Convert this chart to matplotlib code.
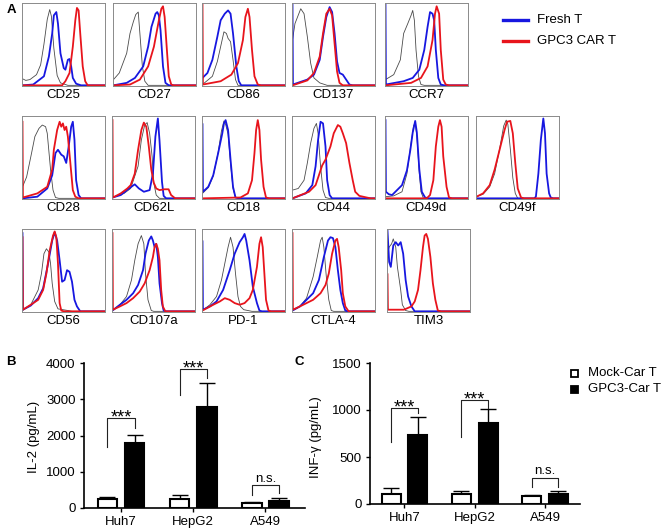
import matplotlib.pyplot as plt
from matplotlib.lines import Line2D
from matplotlib.patches import Rectangle

plt.rcParams['font.family'] = ['Liberation Sans', 'DejaVu Sans']

W, H = 666, 530

# ---- panel A: flow histograms, (x, y) read off each box ----
# x = fraction of the log axis, y = fraction of the mode (box height)
cd25 = {
    'gray': [(0, 0.08), (0.04, 0.06), (0.09, 0.07), (0.17, 0.13), (0.22, 0.25), (0.26, 0.5), (0.30, 0.8), (0.33, 0.92),
             (0.35, 0.84), (0.38, 0.45), (0.42, 0.12), (0.46, 0.03), (0.55, 0)],
    'blue': [(0, 0), (0.13, 0.01), (0.26, 0.11), (0.32, 0.35), (0.36, 0.63), (0.38, 0.85), (0.41, 0.89), (0.43, 0.75),
             (0.46, 0.39), (0.50, 0.21), (0.52, 0.19), (0.55, 0.31), (0.57, 0.32), (0.59, 0.23), (0.61, 0.09),
             (0.65, 0.02), (0.71, 0)],
    'red': [(0, 0), (0.48, 0), (0.52, 0.05), (0.57, 0.15), (0.61, 0.47), (0.64, 0.79), (0.66, 0.94), (0.68, 0.91),
            (0.70, 0.63), (0.73, 0.23), (0.76, 0.05), (0.79, 0)],
}
cd27 = {
    'gray': [(0, 0.07), (0.07, 0.15), (0.16, 0.39), (0.20, 0.63), (0.24, 0.77), (0.27, 0.86), (0.30, 0.89),
             (0.32, 0.63), (0.35, 0.23), (0.38, 0.05), (0.42, 0)],
    'blue': [(0, 0), (0.16, 0.03), (0.26, 0.09), (0.36, 0.23), (0.42, 0.47), (0.46, 0.71), (0.51, 0.87), (0.53, 0.89),
             (0.55, 0.85), (0.57, 0.67), (0.60, 0.23), (0.63, 0.03), (0.67, 0)],
    'red': [(0, 0), (0.20, 0.01), (0.32, 0.07), (0.42, 0.23), (0.49, 0.47), (0.55, 0.79), (0.58, 0.93), (0.60, 0.96),
            (0.62, 0.83), (0.65, 0.39), (0.67, 0.11), (0.70, 0.01), (0.73, 0)],
}
cd86 = {
    'gray': [(0, 0.01), (0.12, 0.11), (0.18, 0.29), (0.22, 0.47), (0.26, 0.65), (0.29, 0.63), (0.31, 0.57),
             (0.34, 0.53), (0.37, 0.31), (0.40, 0.07), (0.43, 0)],
    'blue': [(0, 0.09), (0.06, 0.15), (0.12, 0.31), (0.18, 0.59), (0.22, 0.79), (0.27, 0.87), (0.31, 0.91),
             (0.34, 0.87), (0.37, 0.63), (0.41, 0.23), (0.44, 0.05), (0.47, 0)],
    'red': [(0, 1.0), (0.005, 0.01), (0.22, 0.05), (0.35, 0.13), (0.43, 0.27), (0.49, 0.55), (0.52, 0.83),
            (0.55, 0.93), (0.57, 0.83), (0.60, 0.43), (0.63, 0.11), (0.67, 0.01), (0.71, 0)],
}
cd137 = {
    'gray': [(0, 0.55), (0.03, 0.75), (0.10, 0.93), (0.14, 0.87), (0.18, 0.59), (0.22, 0.27), (0.26, 0.09),
             (0.33, 0.03), (0.42, 0)],
    'blue': [(0, 1.0), (0.005, 0.01), (0.18, 0.07), (0.26, 0.13), (0.33, 0.31), (0.37, 0.59), (0.41, 0.83),
             (0.45, 0.95), (0.48, 0.89), (0.51, 0.63), (0.54, 0.29), (0.57, 0.15), (0.61, 0.13), (0.65, 0.07),
             (0.69, 0.01), (0.73, 0)],
    'red': [(0, 0), (0.18, 0.06), (0.26, 0.15), (0.33, 0.35), (0.37, 0.63), (0.41, 0.87), (0.45, 0.93), (0.48, 0.85),
            (0.51, 0.51), (0.54, 0.17), (0.57, 0.03), (0.61, 0)],
}
ccr7 = {
    'gray': [(0, 0.07), (0.10, 0.13), (0.18, 0.31), (0.22, 0.63), (0.27, 0.75), (0.31, 0.85), (0.33, 0.91),
             (0.35, 0.79), (0.37, 0.43), (0.40, 0.11), (0.43, 0.01), (0.47, 0)],
    'blue': [(0, 1.0), (0.005, 0.01), (0.22, 0.05), (0.33, 0.09), (0.41, 0.19), (0.47, 0.43), (0.51, 0.71),
             (0.54, 0.89), (0.57, 0.87), (0.59, 0.79), (0.61, 0.43), (0.64, 0.09), (0.67, 0.01), (0.71, 0)],
    'red': [(0, 0), (0.31, 0.03), (0.43, 0.09), (0.51, 0.23), (0.57, 0.55), (0.60, 0.87), (0.62, 0.96), (0.65, 0.87),
            (0.67, 0.43), (0.70, 0.07), (0.73, 0.01), (0.77, 0)],
}
cd28 = {
    'gray': [(0, 0.14), (0.05, 0.26), (0.11, 0.55), (0.15, 0.75), (0.20, 0.85), (0.24, 0.89), (0.28, 0.87),
             (0.30, 0.79), (0.34, 0.35), (0.37, 0.10), (0.40, 0.01), (0.44, 0)],
    'blue': [(0, 0), (0.18, 0.02), (0.30, 0.12), (0.36, 0.28), (0.40, 0.55), (0.43, 0.59), (0.47, 0.53), (0.50, 0.51),
             (0.53, 0.43), (0.56, 0.63), (0.59, 0.87), (0.61, 0.93), (0.63, 0.71), (0.65, 0.22), (0.68, 0.04),
             (0.71, 0)],
    'red': [(0, 0.93), (0.005, 0.01), (0.18, 0.06), (0.30, 0.14), (0.36, 0.35), (0.38, 0.59), (0.42, 0.83),
            (0.45, 0.93), (0.47, 0.87), (0.49, 0.91), (0.51, 0.83), (0.53, 0.87), (0.55, 0.75), (0.58, 0.43),
            (0.61, 0.10), (0.64, 0.02), (0.68, 0)],
}
cd62l = {
    'gray': [(0, 0.01), (0.14, 0.06), (0.22, 0.12), (0.31, 0.39), (0.35, 0.71), (0.39, 0.89), (0.42, 0.92),
             (0.45, 0.79), (0.48, 0.51), (0.50, 0.19), (0.53, 0.04), (0.57, 0)],
    'blue': [(0, 0.01), (0.10, 0.04), (0.20, 0.12), (0.27, 0.17), (0.32, 0.12), (0.38, 0.08), (0.45, 0.10),
             (0.49, 0.30), (0.52, 0.75), (0.55, 0.97), (0.57, 0.70), (0.60, 0.20), (0.62, 0.03), (0.65, 0)],
    'red': [(0, 0.95), (0.005, 0.01), (0.10, 0.06), (0.18, 0.12), (0.22, 0.16), (0.27, 0.30), (0.31, 0.59),
            (0.35, 0.83), (0.38, 0.92), (0.41, 0.87), (0.44, 0.63), (0.47, 0.35), (0.50, 0.19), (0.53, 0.12),
            (0.57, 0.10), (0.63, 0.11), (0.68, 0.11), (0.71, 0.04), (0.76, 0)],
}
cd18 = {
    'gray': [(0, 0.06), (0.07, 0.13), (0.13, 0.27), (0.19, 0.56), (0.23, 0.82), (0.26, 0.94), (0.28, 0.90),
             (0.31, 0.78), (0.34, 0.42), (0.37, 0.12), (0.40, 0.01), (0.44, 0)],
    'blue': [(0, 0.9), (0.005, 0.08), (0.07, 0.14), (0.13, 0.28), (0.19, 0.55), (0.24, 0.79), (0.26, 0.91),
             (0.28, 0.95), (0.31, 0.83), (0.34, 0.47), (0.37, 0.14), (0.40, 0.01), (0.44, 0)],
    'red': [(0, 0), (0.46, 0.01), (0.55, 0.06), (0.60, 0.22), (0.63, 0.55), (0.65, 0.83), (0.67, 0.95), (0.69, 0.83),
            (0.71, 0.47), (0.74, 0.14), (0.77, 0.01), (0.81, 0)],
}
cd44 = {
    'gray': [(0, 0.10), (0.07, 0.12), (0.14, 0.22), (0.18, 0.43), (0.22, 0.67), (0.26, 0.85), (0.29, 0.91),
             (0.31, 0.79), (0.34, 0.39), (0.37, 0.10), (0.40, 0.01), (0.44, 0)],
    'blue': [(0, 0), (0.16, 0.06), (0.24, 0.16), (0.28, 0.39), (0.31, 0.71), (0.34, 0.93), (0.37, 0.91), (0.40, 0.63),
             (0.42, 0.22), (0.45, 0.04), (0.48, 0)],
    'red': [(0, 0), (0.20, 0.08), (0.28, 0.16), (0.32, 0.28), (0.36, 0.40), (0.40, 0.47), (0.46, 0.63), (0.50, 0.79),
            (0.55, 0.89), (0.58, 0.87), (0.61, 0.79), (0.65, 0.67), (0.69, 0.43), (0.73, 0.22), (0.76, 0.08),
            (0.81, 0.03), (0.90, 0.01), (0.95, 0)],
}
cd49d = {
    'gray': [(0, 0.02), (0.10, 0.03), (0.20, 0.08), (0.26, 0.30), (0.30, 0.60), (0.34, 0.88), (0.36, 0.92),
             (0.38, 0.75), (0.41, 0.30), (0.43, 0.08), (0.46, 0)],
    'blue': [(0, 0.95), (0.005, 0.08), (0.04, 0.05), (0.08, 0.04), (0.14, 0.10), (0.20, 0.16), (0.26, 0.34),
             (0.30, 0.58), (0.33, 0.80), (0.36, 0.94), (0.38, 0.80), (0.41, 0.35), (0.44, 0.08), (0.48, 0.01),
             (0.52, 0)],
    'red': [(0, 0), (0.50, 0), (0.54, 0.04), (0.58, 0.22), (0.61, 0.63), (0.64, 0.87), (0.66, 0.95), (0.68, 0.87),
            (0.70, 0.51), (0.74, 0.14), (0.77, 0.01), (0.81, 0)],
}
cd49f = {
    'gray': [(0, 0.02), (0.08, 0.05), (0.16, 0.14), (0.22, 0.30), (0.28, 0.60), (0.33, 0.88), (0.36, 0.95),
             (0.38, 0.90), (0.41, 0.60), (0.44, 0.25), (0.47, 0.06), (0.50, 0)],
    'blue': [(0, 0), (0.70, 0), (0.72, 0.02), (0.75, 0.30), (0.78, 0.71), (0.81, 0.97), (0.83, 0.79), (0.85, 0.30),
             (0.88, 0.06), (0.90, 0.01), (0.93, 0)],
    'red': [(0, 0.02), (0.08, 0.06), (0.16, 0.16), (0.22, 0.35), (0.29, 0.63), (0.34, 0.83), (0.37, 0.93),
            (0.41, 0.94), (0.44, 0.79), (0.47, 0.43), (0.50, 0.12), (0.54, 0.01), (0.58, 0)],
}
cd56 = {
    'gray': [(0, 0.01), (0.10, 0.08), (0.19, 0.26), (0.23, 0.46), (0.26, 0.70), (0.29, 0.76), (0.32, 0.72),
             (0.34, 0.58), (0.36, 0.34), (0.39, 0.12), (0.43, 0.03), (0.55, 0.01), (0.60, 0)],
    'blue': [(0, 0.95), (0.005, 0.02), (0.10, 0.07), (0.19, 0.16), (0.25, 0.28), (0.31, 0.58), (0.36, 0.86),
             (0.39, 0.96), (0.42, 0.86), (0.45, 0.62), (0.48, 0.36), (0.51, 0.38), (0.54, 0.50), (0.57, 0.48),
             (0.60, 0.36), (0.63, 0.14), (0.66, 0.06), (0.70, 0)],
    'red': [(0, 0.9), (0.005, 0.02), (0.10, 0.08), (0.19, 0.14), (0.25, 0.26), (0.29, 0.46), (0.33, 0.74),
            (0.37, 0.92), (0.39, 0.97), (0.41, 0.90), (0.43, 0.58), (0.45, 0.10), (0.47, 0.01), (0.50, 0)],
}
cd107a = {
    'gray': [(0, 0.01), (0.09, 0.08), (0.17, 0.18), (0.23, 0.38), (0.27, 0.62), (0.31, 0.82), (0.35, 0.92),
             (0.38, 0.82), (0.40, 0.46), (0.43, 0.14), (0.47, 0.01), (0.50, 0)],
    'blue': [(0, 0.01), (0.09, 0.08), (0.17, 0.14), (0.25, 0.22), (0.31, 0.32), (0.37, 0.50), (0.40, 0.70),
             (0.44, 0.86), (0.47, 0.91), (0.49, 0.86), (0.51, 0.78), (0.53, 0.82), (0.55, 0.66), (0.57, 0.34),
             (0.60, 0.10), (0.62, 0.01), (0.65, 0)],
    'red': [(0, 0.95), (0.005, 0.02), (0.09, 0.06), (0.17, 0.10), (0.25, 0.16), (0.33, 0.24), (0.39, 0.34),
            (0.45, 0.50), (0.49, 0.66), (0.51, 0.78), (0.53, 0.82), (0.55, 0.76), (0.57, 0.62), (0.59, 0.26),
            (0.61, 0.06), (0.64, 0)],
}
pd1 = {
    'gray': [(0, 0.01), (0.09, 0.08), (0.17, 0.18), (0.23, 0.38), (0.27, 0.58), (0.31, 0.78), (0.34, 0.90),
             (0.37, 0.78), (0.40, 0.46), (0.43, 0.18), (0.46, 0.06), (0.50, 0.02), (0.60, 0)],
    'blue': [(0, 0.85), (0.005, 0.02), (0.09, 0.06), (0.17, 0.12), (0.25, 0.26), (0.33, 0.50), (0.39, 0.70),
             (0.45, 0.84), (0.49, 0.90), (0.51, 0.94), (0.53, 0.86), (0.57, 0.62), (0.61, 0.30), (0.66, 0.10),
             (0.69, 0.01), (0.72, 0)],
    'red': [(0, 0.01), (0.13, 0.08), (0.21, 0.12), (0.27, 0.16), (0.33, 0.14), (0.39, 0.10), (0.45, 0.08),
            (0.51, 0.10), (0.57, 0.16), (0.61, 0.26), (0.66, 0.54), (0.69, 0.82), (0.71, 0.90), (0.73, 0.78),
            (0.75, 0.46), (0.77, 0.14), (0.80, 0.01), (0.83, 0)],
}
ctla4 = {
    'gray': [(0, 0.01), (0.09, 0.06), (0.17, 0.16), (0.25, 0.42), (0.30, 0.66), (0.34, 0.86), (0.36, 0.90),
             (0.38, 0.78), (0.41, 0.42), (0.44, 0.14), (0.47, 0.01), (0.50, 0)],
    'blue': [(0, 0.01), (0.09, 0.06), (0.17, 0.14), (0.25, 0.22), (0.32, 0.38), (0.38, 0.66), (0.43, 0.86),
             (0.46, 0.90), (0.49, 0.89), (0.52, 0.78), (0.55, 0.50), (0.58, 0.26), (0.61, 0.10), (0.64, 0.01),
             (0.67, 0)],
    'red': [(0, 0.95), (0.005, 0.02), (0.09, 0.06), (0.17, 0.10), (0.25, 0.14), (0.34, 0.22), (0.40, 0.32),
            (0.44, 0.46), (0.48, 0.70), (0.52, 0.86), (0.54, 0.88), (0.56, 0.78), (0.59, 0.50), (0.61, 0.22),
            (0.64, 0.06), (0.68, 0)],
}
tim3 = {
    'gray': [(0, 0.70), (0.02, 0.78), (0.05, 0.82), (0.07, 0.88), (0.10, 0.78), (0.12, 0.54), (0.16, 0.26),
             (0.18, 0.08), (0.22, 0.01), (0.26, 0)],
    'blue': [(0, 0.98), (0.02, 0.60), (0.04, 0.54), (0.07, 0.80), (0.10, 0.84), (0.13, 0.80), (0.16, 0.84),
             (0.19, 0.70), (0.22, 0.38), (0.25, 0.18), (0.29, 0.06), (0.33, 0)],
    'red': [(0, 0.45), (0.005, 0.02), (0.20, 0.02), (0.29, 0.06), (0.33, 0.12), (0.37, 0.26), (0.40, 0.50),
            (0.43, 0.78), (0.45, 0.92), (0.47, 0.94), (0.49, 0.88), (0.52, 0.66), (0.55, 0.34), (0.58, 0.14),
            (0.61, 0.01), (0.65, 0)],
}

# ---- panels B / C: cytokine release ----
cells = ['Huh7', 'HepG2', 'A549']
il2_mock = [250, 250, 130]
il2_mock_err = [50, 110, 45]
il2_car = [1790, 2780, 190]
il2_car_err = [220, 680, 85]
ifn_mock = [110, 105, 80]
ifn_mock_err = [60, 35, 18]
ifn_car = [730, 860, 105]
ifn_car_err = [200, 150, 28]
sig_labels = ['***', '***', 'n.s.']
# significance brackets: [top, left foot, right foot]
il2_brackets = [(2480, 1680, 2200), (3830, 3110, 3580), (630, 360, 410)]
ifn_brackets = [(1021, 660, 968), (1106, 713, 1021), (277, 181, 181)]

BLUE = '#1717e0'
RED = '#e8141c'
GRAY = '#4a4a4a'

fig = plt.figure(figsize=(W / 100, H / 100), dpi=100)


def px_axes(left, top, width, height):
    return fig.add_axes([left / W, 1 - (top + height) / H, width / W, height / H])


hist_rows = [
    (3, [(22, 'CD25', cd25), (113, 'CD27', cd27), (202, 'CD86', cd86), (292, 'CD137', cd137), (385, 'CCR7', ccr7)]),
    (116, [(22, 'CD28', cd28), (112, 'CD62L', cd62l), (202, 'CD18', cd18), (292, 'CD44', cd44),
           (385, 'CD49d', cd49d), (476, 'CD49f', cd49f)]),
    (229, [(22, 'CD56', cd56), (112, 'CD107a', cd107a), (202, 'PD-1', pd1), (292, 'CTLA-4', ctla4),
           (387, 'TIM3', tim3)]),
]

for top, boxes in hist_rows:
    for left, name, curves in boxes:
        ax = px_axes(left, top, 83, 83)
        for key, color, lw in [('gray', GRAY, 0.6), ('blue', BLUE, 1.3), ('red', RED, 1.3)]:
            pts = curves[key] + [(1.0, 0)]
            ax.plot([p[0] for p in pts], [p[1] for p in pts], color=color, lw=lw)
        ax.set_xlim(-0.006, 1.0)
        ax.set_ylim(-0.008, 1.0)
        ax.set_xticks([])
        ax.set_yticks([])
        for s in ax.spines.values():
            s.set_color('#8a8a8a')
            s.set_linewidth(0.7)
        ax.set_zorder(1)
        fig.text((left + 41.5) / W, 1 - (top + 92) / H, name, ha='center', va='center', fontsize=9.5)

# legend for panel A
for y, lab, col in [(20, 'Fresh T', BLUE), (41, 'GPC3 CAR T', RED)]:
    fig.add_artist(Line2D([503 / W, 528 / W], [1 - y / H, 1 - y / H], color=col, lw=2.4))
    fig.text(537 / W, 1 - y / H, lab, ha='left', va='center', fontsize=9.5)

# panel letters
for x, y, letter in [(11, 10, 'A'), (11, 362, 'B'), (299, 362, 'C')]:
    fig.text(x / W, 1 - y / H, letter, ha='center', va='center', fontsize=9.5, fontweight='bold')


def bar_panel(ax, mock, mock_err, car, car_err, brackets, ymax, yticks, xlim):
    x = range(len(cells))
    xm = [i - 0.19 for i in x]
    xc = [i + 0.19 for i in x]
    ax.bar(xm, mock, width=0.27, color='white', edgecolor='black', linewidth=1.5, zorder=3)
    ax.bar(xc, car, width=0.27, color='black', edgecolor='black', linewidth=1.5, zorder=3)
    ax.errorbar(xm, mock, yerr=[[0] * len(mock), mock_err], fmt='none', ecolor='black',
                elinewidth=1, capsize=5.5, capthick=1, zorder=2)
    ax.errorbar(xc, car, yerr=[[0] * len(car), car_err], fmt='none', ecolor='black',
                elinewidth=1, capsize=5.5, capthick=1, zorder=2)
    for i, (yt, yl, yr) in enumerate(brackets):
        ax.plot([xm[i], xm[i], xc[i], xc[i]], [yl, yt, yt, yr], color='#222222', lw=0.8, clip_on=False)
        lab = sig_labels[i]
        if lab == '***':
            ax.annotate(lab, xy=(i, yt), xytext=(0, -3), textcoords='offset points',
                        ha='center', va='baseline', fontsize=13, annotation_clip=False)
        else:
            ax.annotate(lab, xy=(i, yt), xytext=(0, 2.5), textcoords='offset points',
                        ha='center', va='baseline', fontsize=9.5, annotation_clip=False)
    ax.set_xlim(*xlim)
    ax.set_ylim(0, ymax)
    ax.set_yticks(yticks)
    ax.set_xticks(list(x))
    ax.set_xticklabels(cells)
    ax.tick_params(labelsize=9.5, length=3, width=1, pad=3)
    for s in ['top', 'right']:
        ax.spines[s].set_visible(False)
    for s in ['left', 'bottom']:
        ax.spines[s].set_linewidth(1.2)


axB = px_axes(84, 363, 221, 145)
bar_panel(axB, il2_mock, il2_mock_err, il2_car, il2_car_err, il2_brackets, 4000,
          [0, 1000, 2000, 3000, 4000], (-0.512, 2.547))
fig.text(34 / W, 1 - 437 / H, 'IL-2 (pg/mL)', rotation=90, ha='center', va='center', fontsize=9.5)

axC = px_axes(370, 363, 210, 141)
bar_panel(axC, ifn_mock, ifn_mock_err, ifn_car, ifn_car_err, ifn_brackets, 1500,
          [0, 500, 1000, 1500], (-0.491, 2.498))
fig.text(316 / W, 1 - 437 / H, 'INF-γ (pg/mL)', rotation=90, ha='center', va='center', fontsize=9.5)

# legend for panel C
for y, lab, fc in [(373, 'Mock-Car T', 'white'), (389, 'GPC3-Car T', 'black')]:
    fig.add_artist(Rectangle((570.5 / W, 1 - (y + 3.5) / H), 7 / W, 7 / H, transform=fig.transFigure,
                             facecolor=fc, edgecolor='black', linewidth=1.3))
    fig.text(588 / W, 1 - y / H, lab, ha='left', va='center', fontsize=9.5)

fig.savefig('out.png', dpi=100)
